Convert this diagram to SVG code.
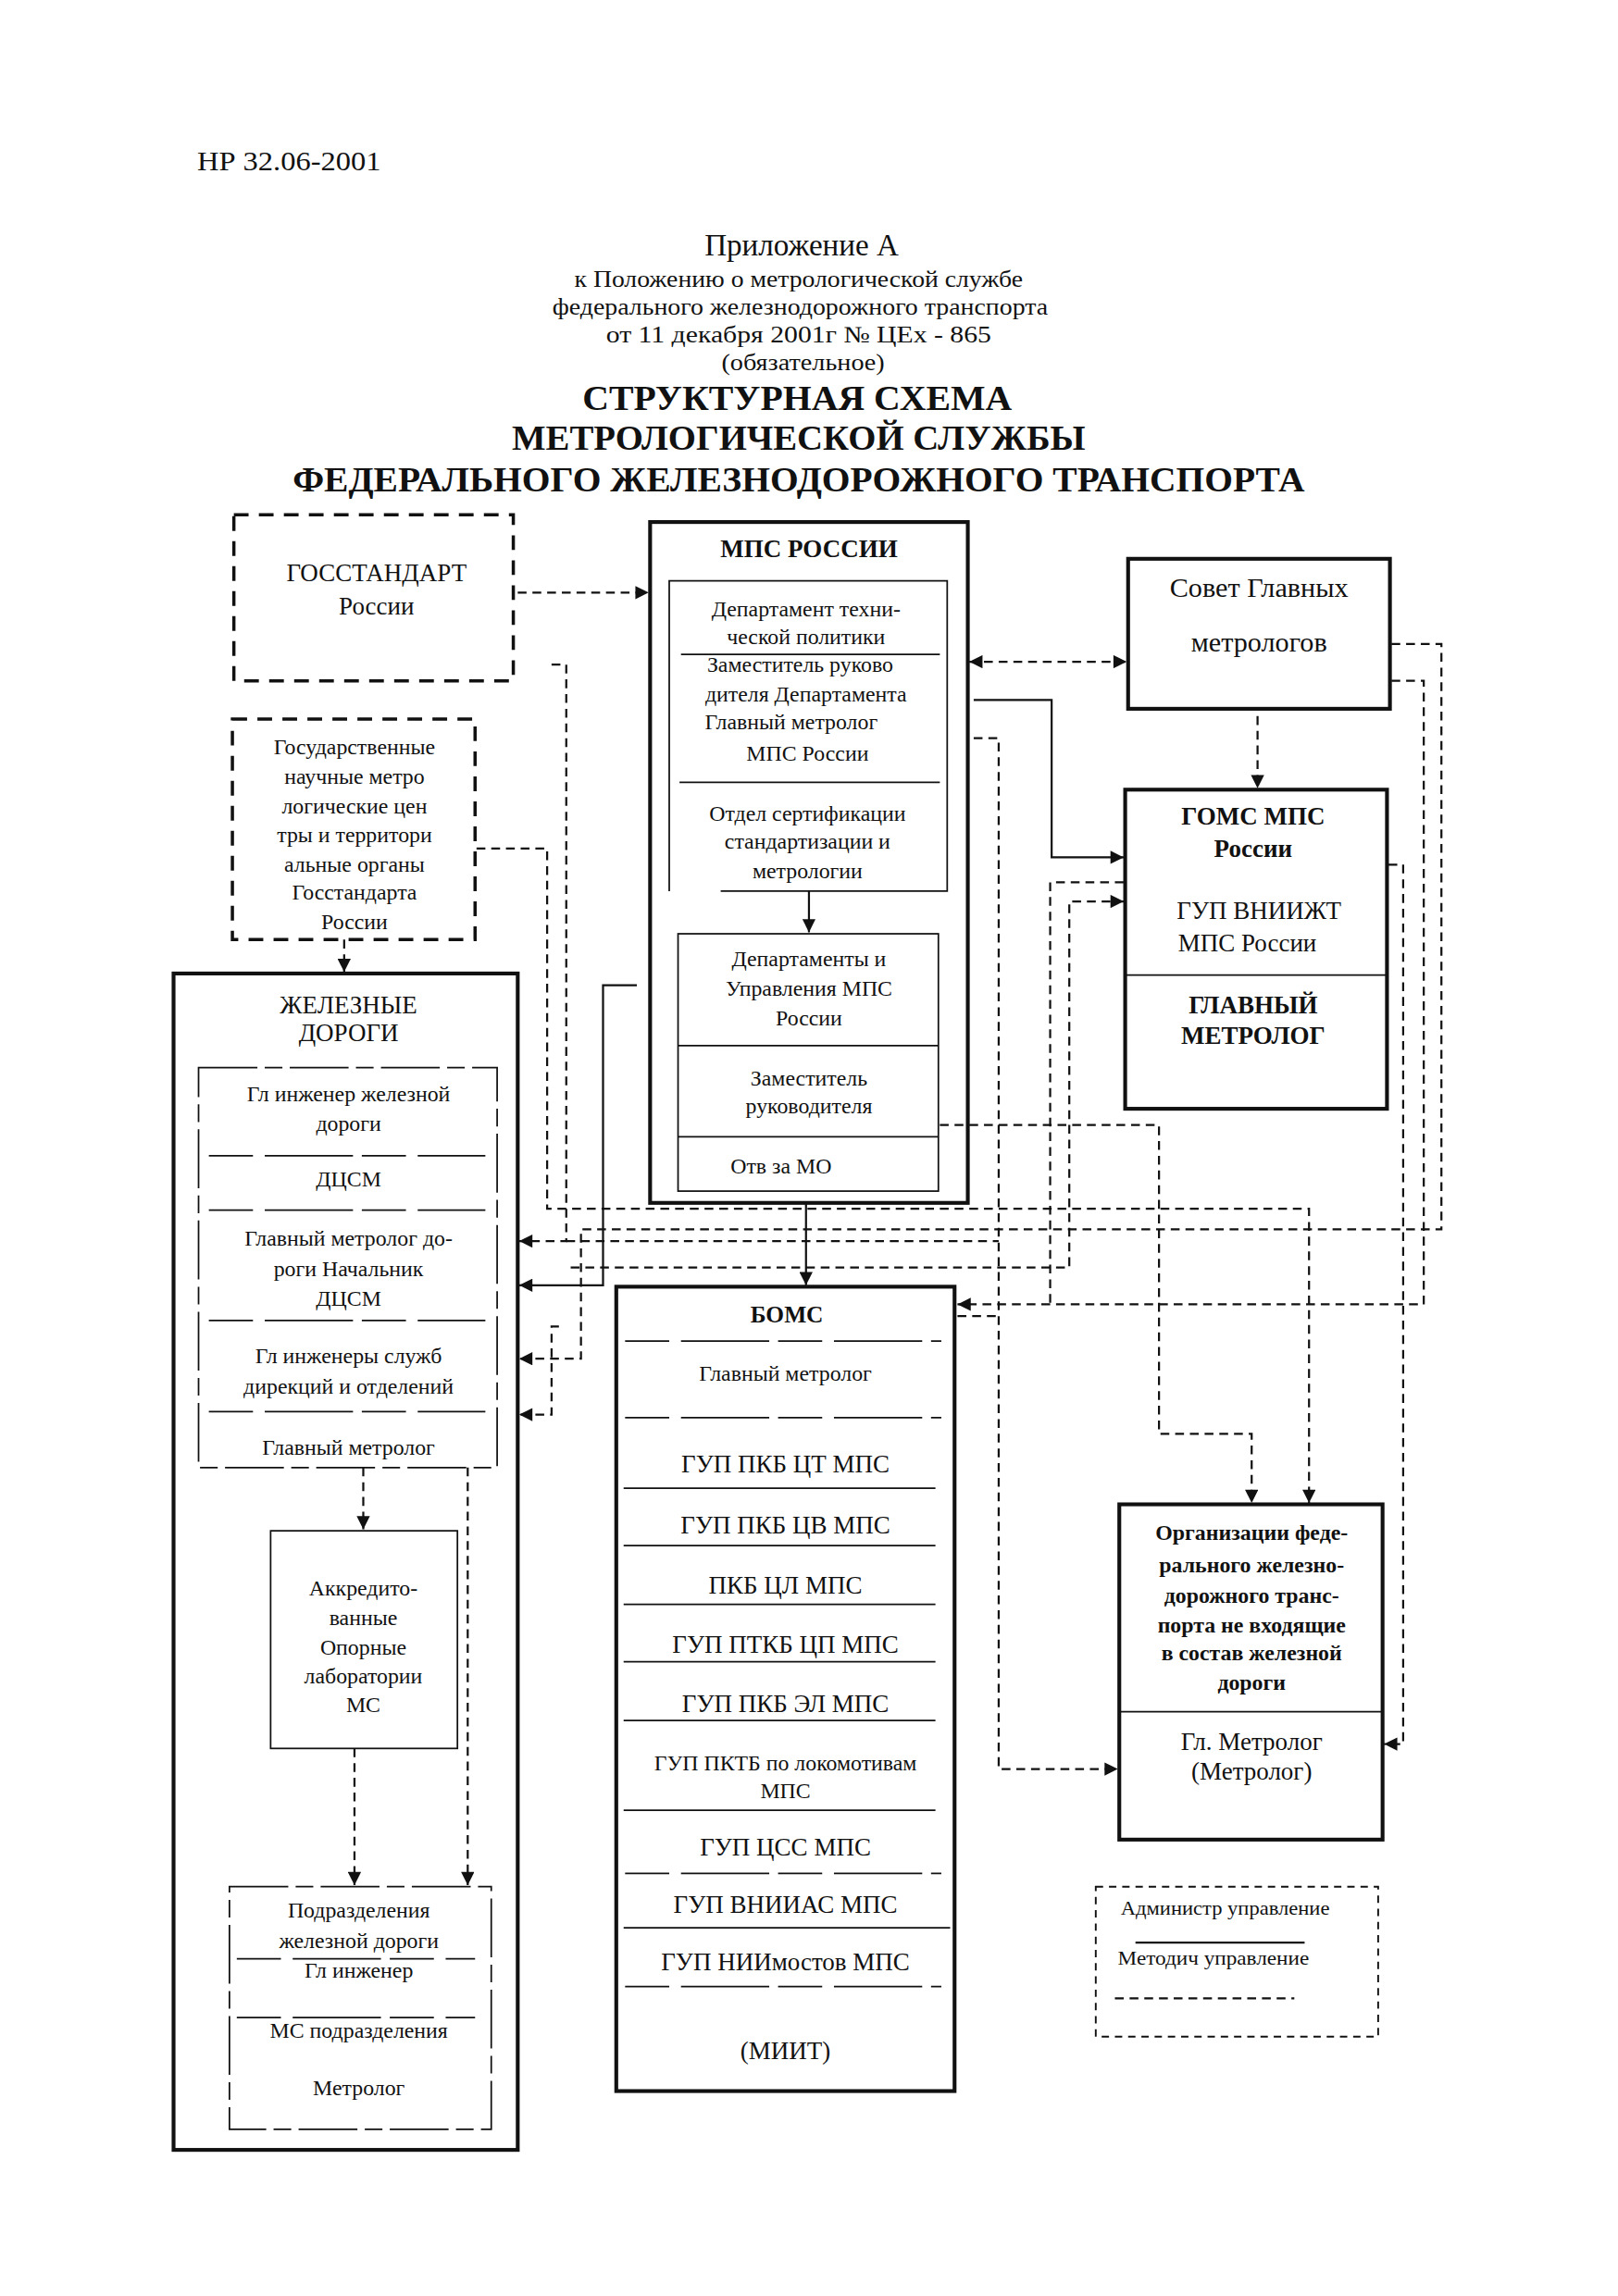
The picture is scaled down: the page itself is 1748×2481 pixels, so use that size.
<svg xmlns="http://www.w3.org/2000/svg" width="1748" height="2481" viewBox="0 0 1748 2481">
<defs>
<style>
.t{font-family:"Liberation Serif","DejaVu Serif",serif;fill:#111}
.c{text-anchor:middle}
.b{font-weight:bold}
.s15{font-size:15px}.s16{font-size:16px}.s17{font-size:17px}.s19{font-size:19px}
.box{fill:none;stroke:#111;stroke-width:2.6}
.thin{fill:none;stroke:#111;stroke-width:1.1}
.dbox{fill:none;stroke:#111;stroke-width:2.2;stroke-dasharray:10 7}
.ibox{fill:none;stroke:#111;stroke-width:1.1;stroke-dasharray:40 5 12 5}
.sep{fill:none;stroke:#111;stroke-width:1.1;stroke-dasharray:30 8 60 6}
.dl{fill:none;stroke:#111;stroke-width:1.4;stroke-dasharray:6 4}
.sl{fill:none;stroke:#111;stroke-width:1.4}
</style>
<marker id="ah" viewBox="0 0 10 10" refX="10" refY="5" markerWidth="11" markerHeight="9" orient="auto-start-reverse" markerUnits="userSpaceOnUse"><path d="M0,0 L10,5 L0,10 z" fill="#111"/></marker>
</defs>
<rect width="1748" height="2481" fill="#fff"/>
<g transform="scale(1.589)">
<g id="header">
<text class="t" x="134" y="116" font-size="19" textLength="125" lengthAdjust="spacingAndGlyphs">НР 32.06-2001</text>
<text class="t c" x="545" y="174" font-size="21" textLength="132" lengthAdjust="spacingAndGlyphs">Приложение А</text>
<text class="t c" x="543" y="195" font-size="16" textLength="305" lengthAdjust="spacingAndGlyphs">к Положению о метрологической службе</text>
<text class="t c" x="544" y="214" font-size="16" textLength="337" lengthAdjust="spacingAndGlyphs">федерального железнодорожного транспорта</text>
<text class="t c" x="543" y="233" font-size="16" textLength="262" lengthAdjust="spacingAndGlyphs">от 11 декабря 2001г   № ЦЕх - 865</text>
<text class="t c" x="546" y="252" font-size="16" textLength="111" lengthAdjust="spacingAndGlyphs">(обязательное)</text>
<text class="t c b" x="542" y="279" font-size="24" textLength="292" lengthAdjust="spacingAndGlyphs">СТРУКТУРНАЯ  СХЕМА</text>
<text class="t c b" x="543" y="306" font-size="24" textLength="390" lengthAdjust="spacingAndGlyphs">МЕТРОЛОГИЧЕСКОЙ СЛУЖБЫ</text>
<text class="t c b" x="543" y="334" font-size="24" textLength="688" lengthAdjust="spacingAndGlyphs">ФЕДЕРАЛЬНОГО ЖЕЛЕЗНОДОРОЖНОГО ТРАНСПОРТА</text>
</g>
<g id="gosstandart">
<rect class="dbox" x="159" y="350" width="190" height="113"/>
<text class="t c s17" x="256" y="395">ГОССТАНДАРТ</text>
<text class="t c s17" x="256" y="418">России</text>
</g>
<g id="gos-centry">
<rect class="dbox" x="158" y="489" width="165" height="150"/>
<text class="t c s15" x="241" y="513">Государственные</text>
<text class="t c s15" x="241" y="533">научные метро</text>
<text class="t c s15" x="241" y="553">логические цен</text>
<text class="t c s15" x="241" y="573">тры и территори</text>
<text class="t c s15" x="241" y="593">альные органы</text>
<text class="t c s15" x="241" y="612">Госстандарта</text>
<text class="t c s15" x="241" y="632">России</text>
</g>
<g id="mps">
<rect class="box" x="442" y="355" width="216" height="463"/>
<text class="t c b s17" x="550" y="379">МПС РОССИИ</text>
<path class="thin" d="M490 606 H644 V395 H455 V606"/>
<path class="thin" d="M463 445 H639 M462 532 H639"/>
<text class="t c s15" x="548" y="419">Департамент техни-</text>
<text class="t c s15" x="548" y="438">ческой политики</text>
<text class="t c s15" x="544" y="457">Заместитель руково</text>
<text class="t c s15" x="548" y="477">дителя Департамента</text>
<text class="t c s15" x="538" y="496">Главный метролог</text>
<text class="t c s15" x="549" y="517">МПС России</text>
<text class="t c s15" x="549" y="558">Отдел сертификации</text>
<text class="t c s15" x="549" y="577">стандартизации и</text>
<text class="t c s15" x="549" y="597">метрологии</text>
<rect class="thin" x="461" y="635" width="177" height="175"/>
<path class="thin" d="M461 711 H638 M461 773 H638"/>
<text class="t c s15" x="550" y="657">Департаменты и</text>
<text class="t c s15" x="550" y="677">Управления МПС</text>
<text class="t c s15" x="550" y="697">России</text>
<text class="t c s15" x="550" y="738">Заместитель</text>
<text class="t c s15" x="550" y="757">руководителя</text>
<text class="t c s15" x="531" y="798">Отв за МО</text>
</g>
<g id="sovet">
<rect class="box" x="767" y="380" width="178" height="102"/>
<text class="t c s19" x="856" y="406">Совет Главных</text>
<text class="t c s19" x="856" y="443">метрологов</text>
</g>
<g id="goms">
<rect class="box" x="765" y="537" width="178" height="217"/>
<path class="thin" d="M765 663 H943"/>
<text class="t c b s17" x="852" y="561">ГОМС МПС</text>
<text class="t c b s17" x="852" y="583">России</text>
<text class="t c s17" x="856" y="625">ГУП ВНИИЖТ</text>
<text class="t c s17" x="848" y="647">МПС России</text>
<text class="t c b s17" x="852" y="689">ГЛАВНЫЙ</text>
<text class="t c b s17" x="852" y="710">МЕТРОЛОГ</text>
</g>
<g id="zheleznye-dorogi">
<rect class="box" x="118" y="662" width="234" height="800"/>
<text class="t c s17" x="237" y="689">ЖЕЛЕЗНЫЕ</text>
<text class="t c s17" x="237" y="708">ДОРОГИ</text>
<rect class="ibox" x="135" y="726" width="203" height="272"/>
<path class="sep" d="M142 786 H330 M142 823 H330 M142 898 H330 M142 960 H330"/>
<text class="t c s15" x="237" y="749">Гл инженер железной</text>
<text class="t c s15" x="237" y="769">дороги</text>
<text class="t c s15" x="237" y="807">ДЦСМ</text>
<text class="t c s15" x="237" y="847">Главный метролог до-</text>
<text class="t c s15" x="237" y="868">роги Начальник</text>
<text class="t c s15" x="237" y="888">ДЦСМ</text>
<text class="t c s15" x="237" y="927">Гл инженеры служб</text>
<text class="t c s15" x="237" y="948">дирекций и отделений</text>
<text class="t c s15" x="237" y="989">Главный метролог</text>
</g>
<g id="akkred-lab">
<rect class="thin" x="184" y="1041" width="127" height="148"/>
<text class="t c s15" x="247" y="1085">Аккредито-</text>
<text class="t c s15" x="247" y="1105">ванные</text>
<text class="t c s15" x="247" y="1125">Опорные</text>
<text class="t c s15" x="247" y="1145">лаборатории</text>
<text class="t c s15" x="247" y="1164">МС</text>
</g>
<g id="podrazdeleniya">
<rect class="ibox" x="156" y="1283" width="178" height="165"/>
<path class="sep" d="M161 1332 H323 M161 1372 H323"/>
<text class="t c s15" x="244" y="1304">Подразделения</text>
<text class="t c s15" x="244" y="1325">железной дороги</text>
<text class="t c s15" x="244" y="1345">Гл инженер</text>
<text class="t c s15" x="244" y="1386">МС подразделения</text>
<text class="t c s15" x="244" y="1425">Метролог</text>
</g>
<g id="boms">
<rect class="box" x="419" y="875" width="230" height="547"/>
<text class="t c b s16" x="535" y="899">БОМС</text>
<path class="sep" d="M425 912 H640 M425 964 H640 M425 1274 H640 M425 1351 H640"/>
<path class="thin" d="M424 1012 H636 M424 1051 H636 M424 1091 H636 M424 1130 H636 M424 1170 H636 M424 1231 H636 M424 1311 H646"/>
<text class="t c s15" x="534" y="939">Главный метролог</text>
<text class="t c s17" x="534" y="1001">ГУП ПКБ ЦТ МПС</text>
<text class="t c s17" x="534" y="1043">ГУП ПКБ ЦВ МПС</text>
<text class="t c s17" x="534" y="1084">ПКБ ЦЛ МПС</text>
<text class="t c s17" x="534" y="1124">ГУП ПТКБ  ЦП МПС</text>
<text class="t c s17" x="534" y="1164">ГУП ПКБ ЭЛ МПС</text>
<text class="t c s15" x="534" y="1204">ГУП ПКТБ по локомотивам</text>
<text class="t c s15" x="534" y="1223">МПС</text>
<text class="t c s17" x="534" y="1262">ГУП ЦСС МПС</text>
<text class="t c s17" x="534" y="1301">ГУП ВНИИАС МПС</text>
<text class="t c s17" x="534" y="1340">ГУП НИИмостов МПС</text>
<text class="t c s17" x="534" y="1400">(МИИТ)</text>
</g>
<g id="organizatsii">
<rect class="box" x="761" y="1023" width="179" height="228"/>
<path class="thin" d="M761 1164 H940"/>
<text class="t c b s15" x="851" y="1047">Организации феде-</text>
<text class="t c b s15" x="851" y="1069">рального железно-</text>
<text class="t c b s15" x="851" y="1090">дорожного транс-</text>
<text class="t c b s15" x="851" y="1110">порта не входящие</text>
<text class="t c b s15" x="851" y="1129">в состав железной</text>
<text class="t c b s15" x="851" y="1149">дороги</text>
<text class="t c s17" x="851" y="1190">Гл. Метролог</text>
<text class="t c s17" x="851" y="1210">(Метролог)</text>
</g>
<g id="legend">
<rect x="745" y="1283" width="192" height="102" fill="none" stroke="#111" stroke-width="1.2" stroke-dasharray="5 4"/>
<text class="t" x="762" y="1302" font-size="13" textLength="142" lengthAdjust="spacingAndGlyphs">Администр управление</text>
<path class="sl" d="M772 1321 H887"/>
<text class="t" x="760" y="1336" font-size="13" textLength="130" lengthAdjust="spacingAndGlyphs">Методич управление</text>
<path class="dl" d="M758 1359 H880"/>
</g>
<g id="connectors">
<path class="dl" d="M352 403 H441" stroke-dasharray="6 10" marker-end="url(#ah)"/>
<path class="dl" d="M659 450 H766" marker-start="url(#ah)" marker-end="url(#ah)"/>
<path class="dl" d="M855 487 V536" marker-end="url(#ah)"/>
<path class="sl" d="M662 476 H715 V583 H764" marker-end="url(#ah)"/>
<path class="dl" d="M662 502 H679 V1203 H760" marker-end="url(#ah)"/>
<path class="dl" d="M651 895 H679"/>
<path class="dl" d="M764 600 H714 V887"/>
<path class="dl" d="M388 862 H727 V613 H764" marker-end="url(#ah)"/>
<path class="dl" d="M946 438 H980 V836 H395 V924 H353" marker-end="url(#ah)"/>
<path class="dl" d="M946 463 H968 V887 H651" marker-end="url(#ah)"/>
<path class="dl" d="M944 588 H954 V1186 H941" marker-end="url(#ah)"/>
<path class="dl" d="M639 765 H788 V975 H851 V1022" marker-end="url(#ah)"/>
<path class="dl" d="M324 577 H372 V822 H890 V1022" marker-end="url(#ah)"/>
<path class="dl" d="M375 452 H385 V844 H353" marker-end="url(#ah)"/>
<path class="dl" d="M385 844 H679"/>
<path class="sl" d="M433 670 H410 V874 H353" marker-end="url(#ah)"/>
<path class="dl" d="M380 902 H375 V962 H353" marker-end="url(#ah)"/>
<path class="dl" d="M234 639 V661" marker-end="url(#ah)"/>
<path class="sl" d="M548 818 V874" marker-end="url(#ah)"/>
<path class="sl" d="M550 606 V634" marker-end="url(#ah)"/>
<path class="dl" d="M247 998 V1040" marker-end="url(#ah)"/>
<path class="dl" d="M241 1189 V1282" marker-end="url(#ah)"/>
<path class="dl" d="M318 998 V1282" marker-end="url(#ah)"/>
</g>
</g>
</svg>
